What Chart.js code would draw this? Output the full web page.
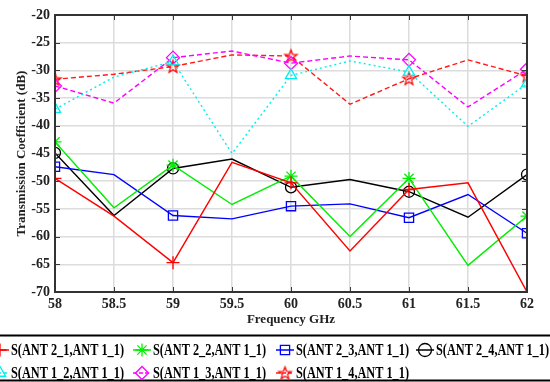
<!DOCTYPE html>
<html>
<head>
<meta charset="utf-8">
<script src="https://cdn.jsdelivr.net/npm/chart.js@4/dist/chart.umd.min.js"></script>
<style>
    html, body { margin: 0; padding: 0; background: #ffffff; }
    #wrap { width: 550px; height: 382px; position: relative; }
</style>
</head>
<body>
<div id="wrap"><canvas id="transChart" width="550" height="382"></canvas></div>
<script>
// Frequency points (GHz)
const freqs = [58, 58.5, 59, 59.5, 60, 60.5, 61, 61.5, 62];

// Transmission coefficients (dB)
const s21 = [-49.5, -56.3, -64.7, -46.6, -50.3, -62.6, -51.5, -50.3, -70.0];
const s22 = [-42.9, -54.8, -47.1, -54.2, -49.1, -60.0, -49.5, -65.2, -56.3];
const s23 = [-47.4, -48.8, -56.2, -56.8, -54.5, -54.1, -56.6, -52.4, -59.4];
const s24 = [-44.9, -56.2, -47.7, -46.0, -51.1, -49.7, -51.9, -56.5, -48.8];
const s12 = [-37.0, -31.2, -28.4, -45.0, -30.9, -28.3, -30.3, -40.1, -32.4];
const s13 = [-32.8, -35.9, -27.7, -26.5, -28.7, -27.4, -28.1, -36.6, -29.8];
const s14 = [-31.6, -30.7, -29.3, -27.2, -27.4, -36.1, -31.5, -28.1, -31.0];

const seriesLabels = [
    'S(ANT 2_1,ANT 1_1)', 'S(ANT 2_2,ANT 1_1)', 'S(ANT 2_3,ANT 1_1)', 'S(ANT 2_4,ANT 1_1)',
    'S(ANT 1_2,ANT 1_1)', 'S(ANT 1_3,ANT 1_1)', 'S(ANT 1_4,ANT 1_1)'
];

const serif = '"Liberation Serif", "Times New Roman", serif';

// Pentagram marker (no built-in point style for it)
function makePentagram(color, r) {
    const c = document.createElement('canvas');
    const size = Math.ceil(r * 2 + 4);
    c.width = size; c.height = size;
    const g = c.getContext('2d');
    const cx = size / 2, cy = size / 2 + 0.5;
    g.beginPath();
    for (let i = 0; i < 10; i++) {
        const rad = i % 2 === 0 ? r : r * 0.42;
        const a = -Math.PI / 2 + i * Math.PI / 5;
        const px = cx + rad * Math.cos(a), py = cy + rad * Math.sin(a);
        if (i === 0) g.moveTo(px, py); else g.lineTo(px, py);
    }
    g.closePath();
    g.strokeStyle = color;
    g.lineWidth = 1.3;
    g.stroke();
    return c;
}
const pentagram = makePentagram('#ff0000', 6.5);

// markers only on whole GHz points
const markerAt = (r) => freqs.map(f => Number.isInteger(f) ? r : 0);
const toXY = (vals) => vals.map((v, i) => ({ x: freqs[i], y: v }));

function series(label, data, color, style, radius, dash) {
    return {
        label: label,
        data: toXY(data),
        borderColor: color,
        backgroundColor: 'rgba(0,0,0,0)',
        borderWidth: 1.4,
        borderDash: dash || [],
        pointStyle: style,
        pointRadius: markerAt(radius),
        pointHoverRadius: markerAt(radius),
        pointBorderColor: color,
        pointBackgroundColor: 'rgba(0,0,0,0)',
        pointBorderWidth: 1.3,
        tension: 0
    };
}

const datasets = [
    series(seriesLabels[0], s21, '#ff0000', 'cross', 6.5),
    series(seriesLabels[1], s22, '#00ee00', 'star', 6.5),
    series(seriesLabels[2], s23, '#0000ff', 'rect', 6.5),
    series(seriesLabels[3], s24, '#000000', 'circle', 5.5),
    series(seriesLabels[4], s12, '#00eeee', 'triangle', 6.5, [2, 3]),
    series(seriesLabels[5], s13, '#ff00ff', 'rectRot', 6.5, [5, 3]),
    series(seriesLabels[6], s14, '#ff1a1a', pentagram, 6.5, [5, 3])
];

// Axes box with inward ticks, plus the legend strip under the plot
const boxAndLegend = {
    id: 'boxAndLegend',
    afterDraw(chart) {
        const ctx = chart.ctx;
        const a = chart.chartArea;
        const xs = chart.scales.x, ys = chart.scales.y;
        ctx.save();
        ctx.strokeStyle = '#3a3a3a';
        ctx.lineWidth = 1;
        ys.ticks.forEach(t => {
            const y = Math.round(ys.getPixelForValue(t.value)) + 0.5;
            ctx.beginPath();
            ctx.moveTo(a.left, y); ctx.lineTo(a.left + 5, y);
            ctx.moveTo(a.right, y); ctx.lineTo(a.right - 5, y);
            ctx.stroke();
        });
        xs.ticks.forEach(t => {
            const x = Math.round(xs.getPixelForValue(t.value)) + 0.5;
            ctx.beginPath();
            ctx.moveTo(x, a.top); ctx.lineTo(x, a.top + 5);
            ctx.moveTo(x, a.bottom); ctx.lineTo(x, a.bottom - 5);
            ctx.stroke();
        });
        ctx.lineWidth = 2;
        ctx.strokeStyle = '#333333';
        ctx.strokeRect(a.left, a.top, a.right - a.left, a.bottom - a.top);

        // legend frame
        ctx.strokeStyle = '#000000';
        ctx.lineWidth = 2;
        ctx.strokeRect(-2, 335.5, chart.width + 4, 45);

        const colX = [0, 142, 285, 425];
        const rowY = [350, 373];
        const helpers = Chart.helpers;
        chart.data.datasets.forEach((ds, i) => {
            const col = i < 4 ? i : i - 4;
            const row = i < 4 ? 0 : 1;
            const mx = colX[col], my = rowY[row];
            ctx.strokeStyle = ds.borderColor;
            ctx.fillStyle = 'rgba(0,0,0,0)';
            ctx.lineWidth = 1.5;
            ctx.setLineDash(ds.borderDash.length ? [4, 2] : []);
            ctx.beginPath();
            ctx.moveTo(mx - 9, my); ctx.lineTo(mx + 9, my);
            ctx.stroke();
            ctx.setLineDash([]);
            ctx.lineWidth = 1.3;
            if (helpers && helpers.drawPoint) {
                helpers.drawPoint(ctx, {
                    pointStyle: ds.pointStyle, radius: 6.5, rotation: 0, borderWidth: 1.3
                }, mx, my);
            }
            ctx.fillStyle = '#000000';
            ctx.font = 'bold 17px ' + serif;
            ctx.textAlign = 'left';
            ctx.textBaseline = 'middle';
            ctx.fillText(ds.label, mx + 11, my + 1, 113);
        });
        ctx.restore();
    }
};

const ctx = document.getElementById('transChart').getContext('2d');
new Chart(ctx, {
    type: 'line',
    data: { datasets: datasets },
    plugins: [boxAndLegend],
    options: {
        responsive: false,
        animation: false,
        events: [],
        layout: { padding: { top: 15, right: 23, left: 0, bottom: 0 } },
        scales: {
            x: {
                type: 'linear',
                min: 58,
                max: 62,
                ticks: {
                    stepSize: 0.5,
                    padding: 4,
                    color: '#222222',
                    font: { family: serif, size: 14, weight: 'bold' },
                    callback: v => String(v)
                },
                grid: { color: '#dcdcdc', lineWidth: 1.5, drawTicks: false },
                border: { display: false },
                title: {
                    display: true,
                    text: 'Frequency GHz',
                    color: '#222222',
                    font: { family: serif, size: 13, weight: 'bold' },
                    padding: { top: 0, bottom: 55 }
                },
                afterFit: s => { s.height = 90; }
            },
            y: {
                min: -70,
                max: -20,
                ticks: {
                    stepSize: 5,
                    padding: 5,
                    color: '#222222',
                    font: { family: serif, size: 14, weight: 'bold' }
                },
                grid: { color: '#dcdcdc', lineWidth: 1.5, drawTicks: false },
                border: { display: false },
                title: {
                    display: true,
                    text: 'Transmission Coefficient (dB)',
                    color: '#222222',
                    font: { family: serif, size: 13, weight: 'bold' },
                    padding: { top: 14, bottom: 0 }
                },
                afterFit: s => { s.width = 55; }
            }
        },
        plugins: {
            legend: { display: false },
            tooltip: { enabled: false }
        }
    }
});
</script>
</body>
</html>
